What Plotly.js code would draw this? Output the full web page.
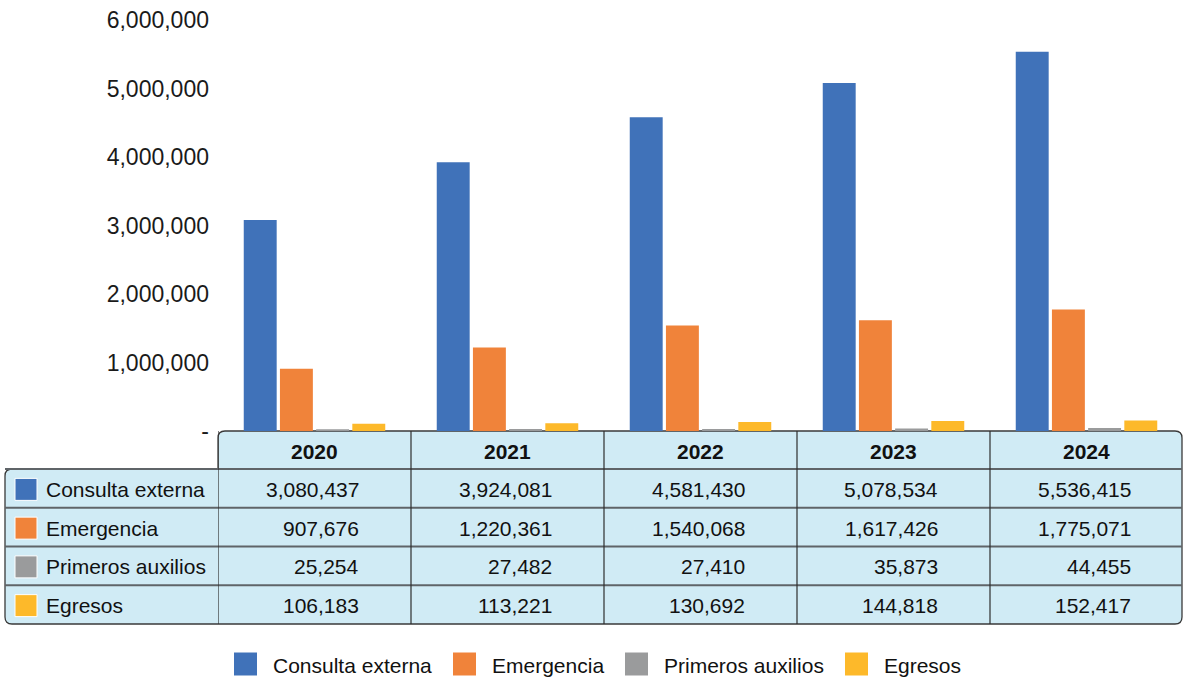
<!DOCTYPE html>
<html>
<head>
<meta charset="utf-8">
<script src="https://cdn.plot.ly/plotly-3.0.1.min.js"></script>
<style>html,body{margin:0;padding:0;background:#fff;}#chart{width:1183px;height:679px;}</style>
</head>
<body>
<div id="chart"></div>
<script>
const years = ['2020', '2021', '2022', '2023', '2024'];
const seriesNames = ['Consulta externa', 'Emergencia', 'Primeros auxilios', 'Egresos'];
const consultaExterna = [3080437, 3924081, 4581430, 5078534, 5536415];
const emergencia = [907676, 1220361, 1540068, 1617426, 1775071];
const primerosAuxilios = [25254, 27482, 27410, 35873, 44455];
const egresos = [106183, 113221, 130692, 144818, 152417];
const tickValues = [0, 1000000, 2000000, 3000000, 4000000, 5000000, 6000000];
const tickLabels = ['-', '1,000,000', '2,000,000', '3,000,000', '4,000,000', '5,000,000', '6,000,000'];

const seriesValues = [consultaExterna, emergencia, primerosAuxilios, egresos];
const colors = ['#4072B9', '#F0833A', '#9A9B9C', '#FDB92A'];

const W = 1183, H = 679, ML = 218, MR = 0, MT = 20, MB = 248;
const plotW = W - ML - MR, plotH = H - MT - MB;
const px = p => (p - ML) / plotW;
const py = p => (H - MB - p) / plotH;
const FONT = 'Liberation Sans, Arial, Helvetica, sans-serif';

const traces = seriesNames.map((name, i) => ({
  type: 'bar', name: name, x: years, y: seriesValues[i],
  marker: {color: colors[i]}, showlegend: false, hoverinfo: 'x+y+name'
}));

// Table geometry (pixels)
const tTop = 431, hdrBottom = 469, rowH = 38.75, tLeft = 5, tRight = 1182, r = 7;
const rowTops = [hdrBottom, hdrBottom + rowH, hdrBottom + 2 * rowH, hdrBottom + 3 * rowH];
const tBottom = hdrBottom + 4 * rowH;

const shapes = [];
const annotations = [];
const P = (x, y) => px(x).toFixed(5) + ',' + py(y).toFixed(5);
const outline = 'M' + P(ML, tTop + r) + ' Q' + P(ML, tTop) + ' ' + P(ML + r, tTop) +
  ' L' + P(tRight - r, tTop) + ' Q' + P(tRight, tTop) + ' ' + P(tRight, tTop + r) +
  ' L' + P(tRight, tBottom - r) + ' Q' + P(tRight, tBottom) + ' ' + P(tRight - r, tBottom) +
  ' L' + P(tLeft + r, tBottom) + ' Q' + P(tLeft, tBottom) + ' ' + P(tLeft, tBottom - r) +
  ' L' + P(tLeft, hdrBottom + r) + ' Q' + P(tLeft, hdrBottom) + ' ' + P(tLeft + r, hdrBottom) +
  ' L' + P(ML, hdrBottom) + ' Z';
shapes.push({type: 'path', xref: 'paper', yref: 'paper', path: outline,
  fillcolor: '#D0EBF5', line: {color: '#3a3a3a', width: 1.3}, layer: 'below'});

// horizontal row separators
for (let k = 0; k < rowTops.length; k++) {
  const y = rowTops[k];
  shapes.push({type: 'line', xref: 'paper', yref: 'paper', x0: px(tLeft), x1: px(tRight),
    y0: py(y), y1: py(y), line: {color: '#5f6468', width: 1.8}});
}
// vertical column dividers at category boundaries
for (let j = 0; j < years.length; j++) {
  shapes.push({type: 'line', xref: 'x', yref: 'paper', x0: j - 0.5, x1: j - 0.5,
    y0: py(tTop), y1: py(tBottom), line: {color: '#2e2e2e', width: 1.2}});
}

// header years
years.forEach((yr, j) => {
  annotations.push({xref: 'x', yref: 'paper', x: j, y: py((tTop + hdrBottom) / 2 + 1),
    text: '<b>' + yr + '</b>', showarrow: false, xanchor: 'center', yanchor: 'middle',
    font: {family: FONT, size: 21, color: '#111'}});
});

// rows
seriesNames.forEach((name, i) => {
  const cy = rowTops[i] + rowH / 2 + 1;
  shapes.push({type: 'rect', xref: 'paper', yref: 'paper', x0: px(15), x1: px(37),
    y0: py(cy - 11), y1: py(cy + 11), fillcolor: colors[i], line: {color: '#ffffff', width: 1}});
  annotations.push({xref: 'paper', yref: 'paper', x: px(44), y: py(cy),
    text: name, showarrow: false, xanchor: 'left', yanchor: 'middle',
    font: {family: FONT, size: 21, color: '#111'}});
  seriesValues[i].forEach((v, j) => {
    annotations.push({xref: 'x', yref: 'paper', x: j + 0.243, y: py(cy),
      text: v.toLocaleString('en-US'), showarrow: false, xanchor: 'right', yanchor: 'middle',
      font: {family: FONT, size: 21, color: '#111'}});
  });
});

// bottom legend
const legSquareX = [234, 453, 625, 845];
const legTextX = [271, 490, 662, 882];
const legY = 664;
seriesNames.forEach((name, i) => {
  shapes.push({type: 'rect', xref: 'paper', yref: 'paper', x0: px(legSquareX[i]), x1: px(legSquareX[i] + 23),
    y0: py(legY - 11.5), y1: py(legY + 11.5), fillcolor: colors[i], line: {width: 0}});
  annotations.push({xref: 'paper', yref: 'paper', x: px(legTextX[i]), y: py(legY + 1),
    text: name, showarrow: false, xanchor: 'left', yanchor: 'middle',
    font: {family: FONT, size: 21, color: '#111'}});
});

const layout = {
  width: W, height: H,
  margin: {l: ML, r: MR, t: MT, b: MB, pad: 0},
  paper_bgcolor: '#ffffff', plot_bgcolor: '#ffffff',
  barmode: 'group', bargap: 0.25, bargroupgap: 0.09,
  showlegend: false,
  xaxis: {type: 'category', range: [-0.5, 4.5], showticklabels: false, showgrid: false,
    zeroline: false, showline: false, ticks: '', fixedrange: true},
  yaxis: {range: [0, 6000000], tickvals: tickValues, ticktext: tickLabels, showgrid: false,
    zeroline: false, showline: false, ticks: '', ticklabelstandoff: 8,
    tickfont: {family: FONT, size: 23, color: '#1a1a1a'}, fixedrange: true},
  shapes: shapes,
  annotations: annotations,
  font: {family: FONT}
};

Plotly.newPlot('chart', traces, layout, {displayModeBar: false, staticPlot: true});
</script>
</body>
</html>
